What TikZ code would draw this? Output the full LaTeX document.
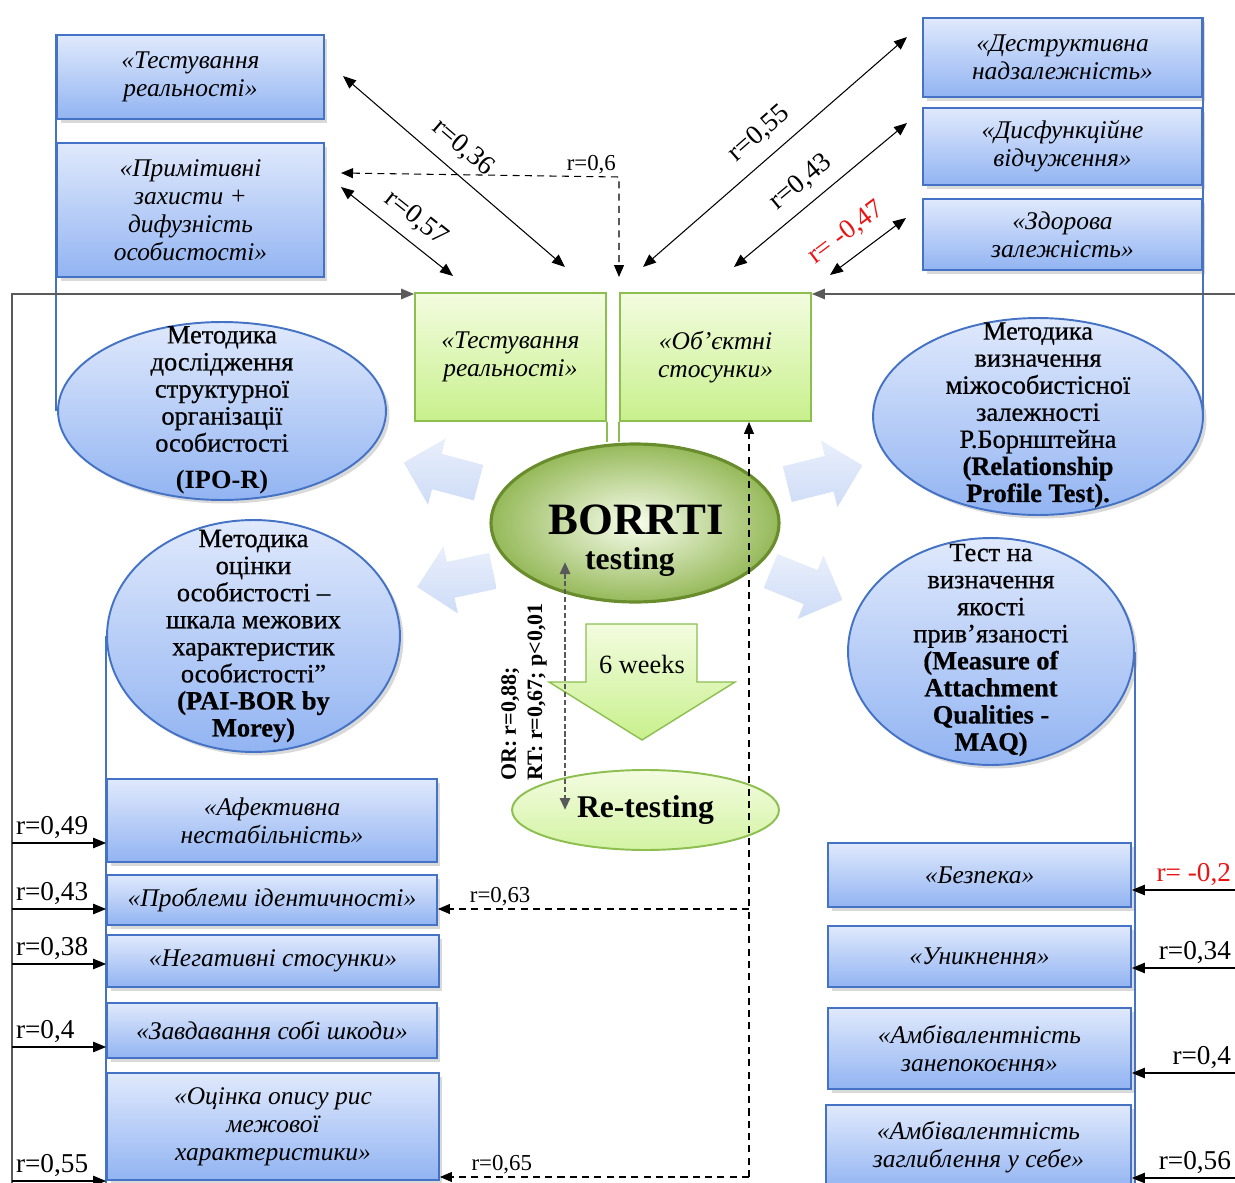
\documentclass[tikz,border=0pt]{standalone}
\usepackage{fontspec}
\setmainfont{Liberation Serif}
\newfontfamily\heavyserif{Liberation Serif}[FakeBold=0.7]
\usetikzlibrary{arrows.meta,positioning,calc,backgrounds,shapes.geometric,shapes.arrows,shadows}
\definecolor{boxedge}{RGB}{68,114,196}
\definecolor{boxtop}{RGB}{224,233,252}
\definecolor{boxbot}{RGB}{146,180,242}
\definecolor{leafedge}{RGB}{140,190,80}
\definecolor{leaftop}{RGB}{243,252,224}
\definecolor{leafbot}{RGB}{200,240,140}
\definecolor{oliveedge}{RGB}{105,140,45}
\definecolor{oliveout}{RGB}{150,185,90}
\definecolor{palearr}{RGB}{206,220,247}
\definecolor{framegray}{RGB}{90,90,90}
\definecolor{negred}{RGB}{235,20,20}

\begin{document}
\begin{tikzpicture}[x=0.02cm, y=-0.02cm,
    facet/.style={rectangle, draw=boxedge, line width=1.1pt, top color=boxtop, bottom color=boxbot,
                  font=\fontsize{14.5}{16}\selectfont\itshape, align=center, inner sep=2pt,
                  drop shadow={shadow xshift=2pt, shadow yshift=-2pt, opacity=.3}},
    leaf/.style={rectangle, draw=leafedge, line width=1.1pt, top color=leaftop, bottom color=leafbot,
                 font=\fontsize{14.5}{16}\selectfont\itshape, align=center, inner sep=2pt},
    method/.style={ellipse, draw=boxedge, line width=1.1pt, top color=boxtop, bottom color=boxbot,
                   drop shadow={shadow xshift=2pt, shadow yshift=-2pt, opacity=.3}},
    mtext/.style={font=\heavyserif\fontsize{15}{15.4}\selectfont, align=center, inner sep=0pt},
    corr/.style={black, line width=0.6pt, -{Triangle[length=2.6mm,width=2.1mm]}},
    corrtwo/.style={black, line width=0.6pt, {Triangle[length=2.6mm,width=2.1mm]}-{Triangle[length=2.6mm,width=2.1mm]}},
    rlab/.style={font=\fontsize{15.5}{17}\selectfont, inner sep=2pt},
    slab/.style={font=\fontsize{13}{14}\selectfont, inner sep=1.5pt},
    dashcorr/.style={black, line width=0.6pt, dash pattern=on 4pt off 3pt},
    tieline/.style={boxedge, line width=1.4pt},
    frameline/.style={framegray, line width=0.8pt},
    pale/.style={single arrow, top color=palearr!45!white, bottom color=palearr, draw=none,
                 inner sep=0.36cm, single arrow head extend=0.32cm, minimum height=1.55cm}]
  \useasboundingbox (0,0) rectangle (1235,1183);

  % scales of the other inventories
  \node[facet, minimum width=5.34cm, minimum height=1.68cm] (TL1) at (190.5,77) {«Тестування\\реальності»};
  \node[facet, minimum width=5.34cm, minimum height=2.68cm] (TL2) at (190.5,210) {«Примітивні\\захисти +\\дифузність\\особистості»};
  \node[facet, minimum width=5.58cm, minimum height=1.58cm] (TR1) at (1062.5,57.5) {«Деструктивна\\надзалежність»};
  \node[facet, minimum width=5.58cm, minimum height=1.54cm] (TR2) at (1062.5,146.5) {«Дисфункційне\\відчуження»};
  \node[facet, minimum width=5.58cm, minimum height=1.42cm] (TR3) at (1062.5,234.5) {«Здорова\\залежність»};

  \node[facet, minimum width=6.6cm, minimum height=1.66cm] (L1) at (272,820.5) {«Афективна\\нестабільність»};
  \node[facet, minimum width=6.6cm, minimum height=1.0cm] (L2) at (272,900) {«Проблеми ідентичності»};
  \node[facet, minimum width=6.64cm, minimum height=1.04cm] (L3) at (273,961) {«Негативні стосунки»};
  \node[facet, minimum width=6.6cm, minimum height=1.1cm] (L4) at (272,1030.5) {«Завдавання собі шкоди»};
  \node[facet, minimum width=6.64cm, minimum height=2.14cm] (L5) at (273,1126.5) {«Оцінка опису рис\\межової\\характеристики»};

  \node[facet, minimum width=6.06cm, minimum height=1.28cm] (R1) at (979.5,875) {«Безпека»};
  \node[facet, minimum width=6.06cm, minimum height=1.22cm] (R2) at (979.5,956.5) {«Уникнення»};
  \node[facet, minimum width=6.06cm, minimum height=1.62cm] (R3) at (979.5,1048.5) {«Амбівалентність\\занепокоєння»};
  \node[facet, minimum width=6.1cm, minimum height=1.7cm] (R4) at (978.5,1147.5) {«Амбівалентність\\заглиблення у себе»};

  % BORRTI subscales
  \node[leaf, minimum width=3.82cm, minimum height=2.56cm] (G1) at (510.5,357) {«Тестування\\реальності»};
  \node[leaf, minimum width=3.82cm, minimum height=2.56cm] (G2) at (715.5,357) {«Об’єктні\\стосунки»};

  % methods
  \node[method, minimum width=6.56cm, minimum height=3.56cm] (ipo) at (222,411) {};
  \node[mtext] (ipoT) at (222,389) {Методика\\дослідження\\структурної\\організації\\особистості};
  \node[mtext, font=\fontsize{15}{15.4}\selectfont\bfseries] (ipoA) at (222,482) {(IPO-R)};
  \node[method, minimum width=5.86cm, minimum height=4.64cm] (pai) at (253.5,636) {};
  \node[mtext] (paiT) at (253.5,636) {Методика\\оцінки\\особистості –\\шкала межових\\характеристик\\особистості”\\\textbf{(PAI-BOR by}\\\textbf{Morey)}};
  \node[method, minimum width=6.6cm, minimum height=3.94cm] (rpt) at (1038,416.5) {};
  \node[mtext] (rptT) at (1038,415) {Методика\\визначення\\міжособистісної\\залежності\\Р.Борнштейна\\\textbf{(Relationship}\\\textbf{Profile Test).}};
  \node[method, minimum width=5.72cm, minimum height=4.54cm] (maq) at (991,651.5) {};
  \node[mtext] (maqT) at (991,650) {Тест на\\визначення\\якості\\прив’язаності\\\textbf{(Measure of}\\\textbf{Attachment}\\\textbf{Qualities -}\\\textbf{MAQ)}};

  % centre
  \node[ellipse, minimum width=5.76cm, minimum height=3.16cm, draw=oliveedge, line width=1.8pt,
        inner color=leaftop!60!white, outer color=oliveout] (bor) at (635,523) {};
  \node[font=\fontsize{25.5}{26}\selectfont\bfseries] (borA) at (636,520) {BORRTI};
  \node[font=\fontsize{18}{20}\selectfont\bfseries] (borB) at (630,562) {testing};
  \node[ellipse, minimum width=5.34cm, minimum height=1.6cm, draw=leafedge, line width=1.1pt,
        top color=leaftop, bottom color=leafbot!80!white, font=\fontsize{18}{20}\selectfont\bfseries] (ret) at (645.5,810) {Re-testing};
  \path[top color=leaftop, bottom color=leafbot, draw=leafedge, line width=0.8pt]
    (586,624) -- (697,624) -- (697,682) -- (735,682) -- (642,740) -- (549,682) -- (586,682) -- cycle;
  \node[font=\fontsize{15}{16}\selectfont] (wk) at (642,664) {6 weeks};

  \node[pale, rotate=165] (pUL) at (450,475) {};
  \node[pale, rotate=192] (pLL) at (464,577) {};
  \node[pale, rotate=14] (pUR) at (816,477) {};
  \node[pale, rotate=-22] (pLR) at (798,582) {};

  \begin{scope}[on background layer]
    \draw[tieline] (TL1.north west) -- (TL1.north west |- ipo.west);
    \draw[tieline] (TR1.north east) -- (TR1.north east |- rpt.east);
    \draw[tieline] (pai.west) -- (pai.west |- 0,1183);
    \draw[tieline] (maq.east) -- (maq.east |- 0,1183);
    \draw[leafedge, line width=1.5pt] (G1.south east) -- (G1.south east |- bor.north);
    \draw[leafedge, line width=1.5pt] (G2.south west) -- (G2.south west |- bor.north);
  \end{scope}

  % frame
  \coordinate (lft) at (12,294);
  \coordinate (rgt) at (1235,294);
  \draw[frameline, -{Triangle[length=2.6mm,width=2.1mm]}] (lft |- 0,1183) -- (lft) -- (G1.north west |- lft);
  \draw[frameline, -{Triangle[length=2.6mm,width=2.1mm]}] (rgt) -- (G2.north east |- rgt);

  \foreach \bx/\yy/\rv in {L1/843/{r=0,49}, L2/909/{r=0,43}, L3/964/{r=0,38}, L4/1047/{r=0,4}, L5/1181/{r=0,55}}
    \draw[corr] (lft |- 0,\yy) -- (\bx.west |- 0,\yy) node[rlab, pos=0, anchor=south west] {\rv};
  \foreach \bx/\yy/\rv/\cc in {R1/890/{r= -0,2}/negred, R2/968/{r=0,34}/black, R3/1073/{r=0,4}/black, R4/1178/{r=0,56}/black}
    \draw[corr] (rgt |- 0,\yy) -- (\bx.east |- 0,\yy) node[rlab, pos=0, anchor=south east, text=\cc] {\rv};

  % diagonal correlations
  \coordinate (a36s) at (343,76);  \coordinate (a36e) at (565,267);
  \coordinate (a57s) at (341,187); \coordinate (a57e) at (453,276);
  \coordinate (a55s) at (643,267); \coordinate (a55e) at (907,37);
  \coordinate (a43s) at (734,267); \coordinate (a43e) at (907,123);
  \coordinate (a47s) at (830,275); \coordinate (a47e) at (906,218);
  \draw[corrtwo] (a36s) -- (a36e) node[rlab, pos=.47, sloped, above=5pt] {r=0,36};
  \draw[corrtwo] (a57s) -- (a57e) node[rlab, pos=.55, sloped, above=4pt] {r=0,57};
  \draw[corrtwo] (a55s) -- (a55e) node[rlab, pos=.5, sloped, above=5pt] {r=0,55};
  \draw[corrtwo] (a43s) -- (a43e) node[rlab, pos=.47, sloped, above=4pt] {r=0,43};
  \draw[corrtwo] (a47s) -- (a47e) node[rlab, pos=.4, sloped, above=5pt, text=negred] {r= -0,47};

  % dashed links
  \coordinate (p6a) at (341,173);
  \coordinate (k6) at (619,177);
  \draw[dashcorr, {Triangle[length=2.4mm,width=2mm]}-{Triangle[length=2.4mm,width=2mm]}]
    (p6a) -- (k6) node[slab, anchor=south east] {r=0,6} -- (k6 |- 0,277);
  \coordinate (dvb) at (749,1177);
  \draw[dashcorr, -{Triangle[length=2.4mm,width=2mm]}] (dvb) -- (dvb |- G2.south);
  \draw[dashcorr, -{Triangle[length=2.4mm,width=2mm]}] (dvb |- 0,909) -- (L2.east |- 0,909)
    node[slab, pos=.8, above] {r=0,63};
  \draw[dashcorr, -{Triangle[length=2.4mm,width=2mm]}] (dvb) -- (L5.east |- dvb)
    node[slab, pos=.8, above] {r=0,65};

  % test-retest
  \coordinate (ta) at (565,562);
  \coordinate (tb) at (565,810);
  \draw[black!65, line width=1.6pt, dash pattern=on 3pt off 1.5pt,
        {Triangle[length=2.4mm,width=2mm]}-{Triangle[length=2.4mm,width=2mm]}] (ta) -- (tb);
  \node[rotate=90, align=left, font=\fontsize{12.5}{15}\selectfont\bfseries] (orl) at (524,692)
    {OR: r=0,88;\\RT: r=0,67; p<0,01};
\end{tikzpicture}
\end{document}
